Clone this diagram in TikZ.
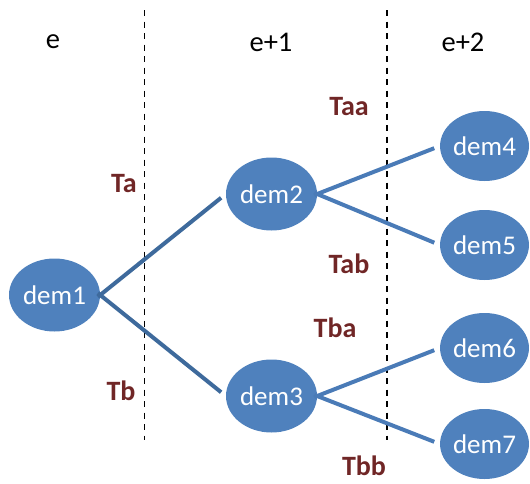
\documentclass[tikz,border=0pt]{standalone}
\usepackage{fontspec}
\setmainfont{Carlito}
\usetikzlibrary{shapes.geometric}
\definecolor{demfill}{RGB}{79,129,189}
\definecolor{linkA}{RGB}{62,106,156}
\definecolor{linkB}{RGB}{74,123,183}
\definecolor{tlabel}{RGB}{112,38,38}
\tikzset{
  dem/.style={ellipse, fill=demfill, draw=none, inner sep=0pt,
    text=white, font=\fontsize{27}{30}\selectfont},
  bigdem/.style={dem, minimum width=91pt, minimum height=73pt},
  smalldem/.style={dem, minimum width=83pt, minimum height=70pt},
  period/.style={font=\fontsize{28.5}{31}\selectfont, text=black, inner sep=0pt},
  trans/.style={font=\bfseries\fontsize{28}{30}\selectfont, text=tlabel, inner sep=0pt},
  border/.style={draw=black, line width=1.8pt, dash pattern=on 6pt off 5.5pt},
  branch/.style={line width=4pt, shorten <=-3pt, shorten >=6pt},
}
\begin{document}
\begin{tikzpicture}[x=1pt, y=-1pt]
  \useasboundingbox (0,0) rectangle (530,483);

  % period boundaries
  \coordinate (b1top) at (144.5,10);
  \coordinate (b1bot) at (144.5,440);
  \coordinate (b2top) at (387,10);
  \coordinate (b2bot) at (387,440);
  \draw[border] (b1top) -- (b1bot);
  \draw[border] (b2top) -- (b2bot);

  % period headers
  \node[period] (pe)  at (53,42)  {e};
  \node[period] (pe1) at (271,42) {e+1};
  \node[period] (pe2) at (463,42) {e+2};

  % states
  \node[bigdem]   (dem1) at (54.5,295) {dem1};
  \node[bigdem]   (dem2) at (271.5,194) {dem2};
  \node[bigdem]   (dem3) at (271.5,396) {dem3};
  \node[smalldem] (dem4) at (484.5,146) {dem4};
  \node[smalldem] (dem5) at (484.5,245) {dem5};
  \node[smalldem] (dem6) at (484.5,348) {dem6};
  \node[smalldem] (dem7) at (484.5,444) {dem7};

  % transitions
  \draw[branch, linkA] (dem1.east) -- (dem2.west);
  \draw[branch, linkA] (dem1.east) -- (dem3.west);
  \draw[branch, linkB] (dem2.east) -- (dem4.west);
  \draw[branch, linkB] (dem2.east) -- (dem5.west);
  \draw[branch, linkB] (dem3.east) -- (dem6.west);
  \draw[branch, linkB] (dem3.east) -- (dem7.west);

  % transition labels
  \node[trans] (ta)  at (124,184) {Ta};
  \node[trans] (tb)  at (121,391) {Tb};
  \node[trans] (taa) at (349,107) {Taa};
  \node[trans] (tab) at (349,264) {Tab};
  \node[trans] (tba) at (335,328) {Tba};
  \node[trans] (tbb) at (364,466) {Tbb};
\end{tikzpicture}
\end{document}
